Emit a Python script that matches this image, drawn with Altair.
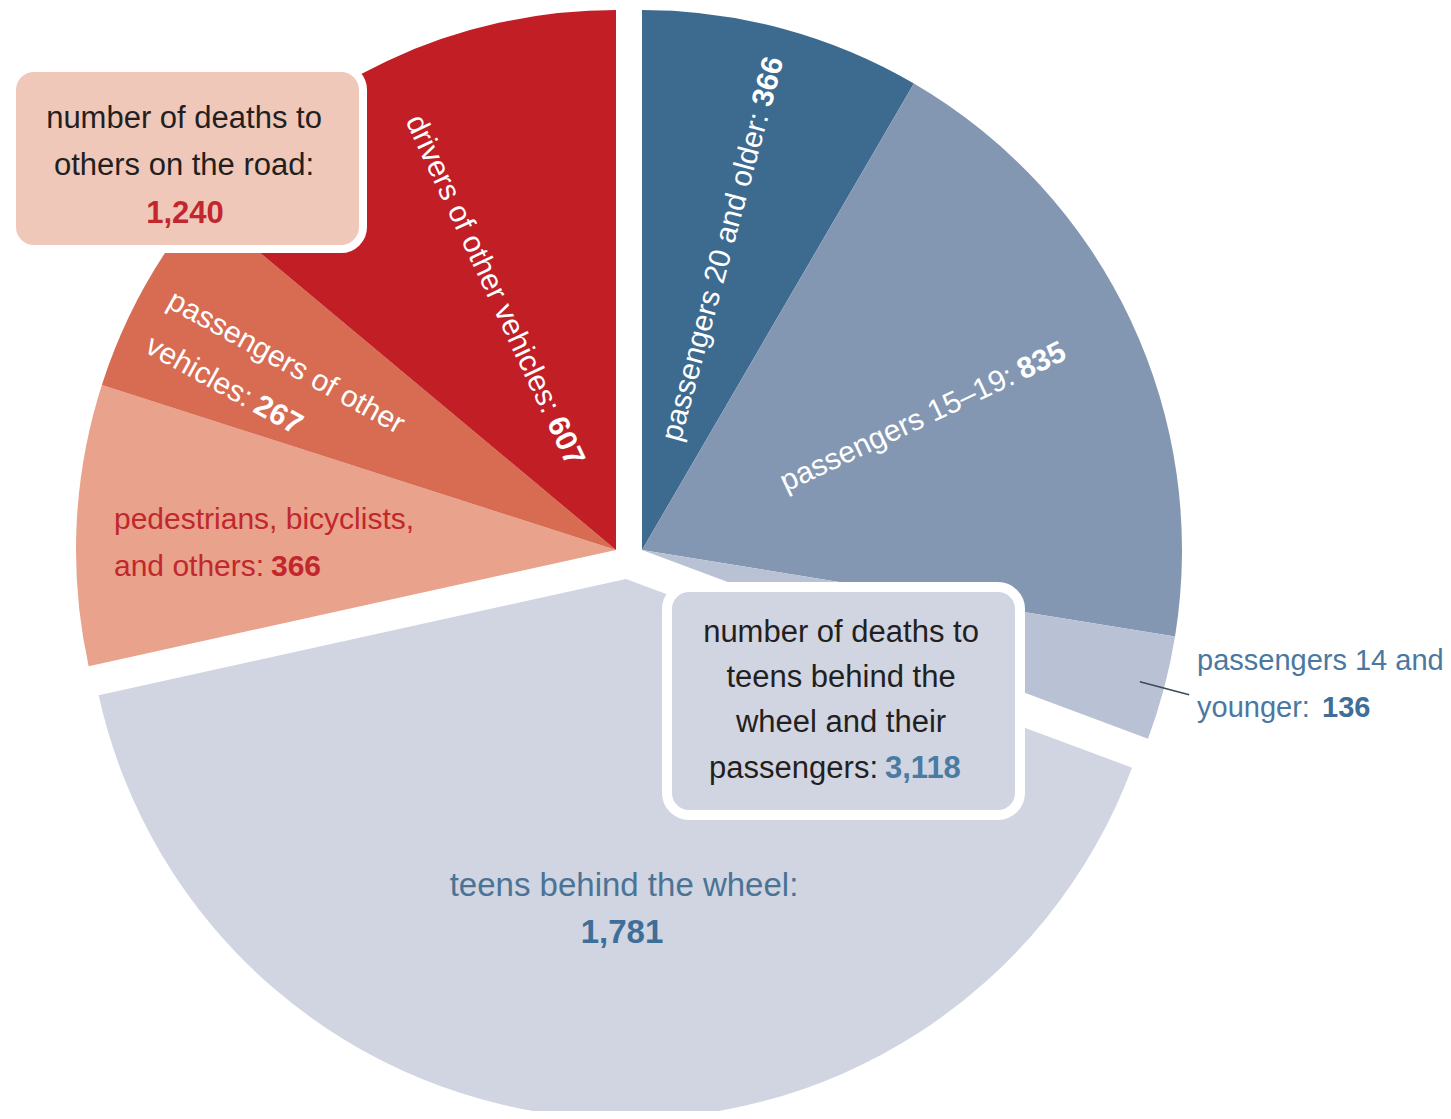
import altair as alt
import pandas as pd

# ---------------- data ----------------
categories = [
    "passengers 20 and older",
    "passengers 15–19",
    "passengers 14 and younger",
    "teens behind the wheel",
    "pedestrians, bicyclists, and others",
    "passengers of other vehicles",
    "drivers of other vehicles",
]
deaths = [366, 835, 136, 1781, 366, 267, 607]
groups = ["teen passengers", "teen passengers", "teen passengers", "teen drivers",
          "others", "others", "others"]
colors = ["#3d6a8f", "#8497b2", "#b9c2d4", "#d0d5e1", "#e9a28b", "#d76c53", "#c11e26"]

df = pd.DataFrame({"category": categories, "deaths": deaths, "group": groups})
df["end"] = df["deaths"].cumsum()
df["start"] = df["end"] - df["deaths"]
df["mid"] = (df["start"] + df["end"]) / 2
total = int(df["deaths"].sum())
mid_deg = dict(zip(df["category"], df["mid"] / total * 360))
others_total = int(df.loc[df["group"] == "others", "deaths"].sum())
teen_total = total - others_total
totals = pd.DataFrame({"box": ["others", "teens"], "total": [others_total, teen_total]})

# ---------------- styling ----------------
FONT = "Liberation Sans"
DARK = "#231f20"
RED_TXT = "#c1272d"
BLUE_TXT = "#4a78a0"
BLUE_NUM = "#3f6e98"

RED_C = (604, 542)
BLUE_C = (630, 542)
TEEN_C = (614, 571)
R = 540

theta_scale = alt.Scale(domain=[0, total], nice=False)
color_scale = alt.Scale(domain=categories, range=colors)

base = alt.Chart(df)


def arcs(group, center):
    return base.transform_filter(alt.datum.group == group).mark_arc(radius=R).encode(
        x=alt.value(center[0]),
        y=alt.value(center[1]),
        theta=alt.Theta("start:Q", scale=theta_scale, stack=False),
        theta2="end:Q",
        color=alt.Color("category:N", scale=color_scale, legend=None),
    )


def inward(cat):
    return (mid_deg[cat] + 90) % 360


def outward(cat):
    return (mid_deg[cat] + 270) % 360


def polar_text(cat, center, radius, angle, align, text=None, dy=0, bold=False,
               color="white", size=30):
    txt = alt.Text("deaths:Q", format=",") if text is None else alt.value(text)
    return base.transform_filter(alt.datum.category == cat).mark_text(
        radius=radius, angle=angle, align=align, baseline="middle", dy=dy,
        font=FONT, fontSize=size, fontWeight="bold" if bold else "normal", color=color,
    ).encode(
        x=alt.value(center[0]),
        y=alt.value(center[1]),
        theta=alt.Theta("mid:Q", scale=theta_scale, stack=False),
        text=txt,
    )


def xy_text(x, y, text=None, cat=None, align="left", bold=False, color=DARK, size=30):
    if cat is None:
        src = alt.Chart(totals).transform_filter(alt.datum.box == "others")
        txt = alt.value(text)
    else:
        src = base.transform_filter(alt.datum.category == cat)
        txt = alt.Text("deaths:Q", format=",") if text is None else alt.value(text)
    return src.mark_text(
        align=align, baseline="alphabetic", font=FONT, fontSize=size,
        fontWeight="bold" if bold else "normal", color=color,
    ).encode(x=alt.value(x), y=alt.value(y), text=txt)


def box_total(box, x, y, color, align="center", size=31):
    return alt.Chart(totals).transform_filter(alt.datum.box == box).mark_text(
        align=align, baseline="alphabetic", font=FONT, fontSize=size,
        fontWeight="bold", color=color,
    ).encode(x=alt.value(x), y=alt.value(y), text=alt.Text("total:Q", format=","))


def box(which, x, x2, y, y2, fill, sw):
    return alt.Chart(totals).transform_filter(alt.datum.box == which).mark_rect(
        fill=fill, stroke="white", strokeWidth=sw, cornerRadius=22,
    ).encode(x=alt.value(x), x2=alt.value(x2), y=alt.value(y), y2=alt.value(y2))


c_drv = "drivers of other vehicles"
c_pov = "passengers of other vehicles"
c_ped = "pedestrians, bicyclists, and others"
c_p20 = "passengers 20 and older"
c_p15 = "passengers 15–19"
c_p14 = "passengers 14 and younger"
c_teen = "teens behind the wheel"

leader = base.transform_filter(alt.datum.category == c_p14).mark_arc(
    radius=566, radius2=515, fill="transparent", stroke="#3e4856", strokeWidth=1.5,
).encode(
    x=alt.value(BLUE_C[0]),
    y=alt.value(BLUE_C[1]),
    theta=alt.Theta("mid:Q", scale=theta_scale, stack=False),
    theta2="mid:Q",
)

layers = [
    arcs("others", RED_C),
    arcs("teen passengers", BLUE_C),
    arcs("teen drivers", TEEN_C),
    box("others", 0, 351, 60, 241, "#f0c8b9", 8),
    box("teens", 655, 1008, 579, 807, "#d0d5e1", 10),
    leader,
    # rotated labels in red group
    polar_text(c_drv, RED_C, 153, inward(c_drv), "right", text="drivers of other vehicles:"),
    polar_text(c_drv, RED_C, 145, inward(c_drv), "left", bold=True),
    polar_text(c_pov, RED_C, 512, inward(c_pov), "left", text="passengers of other", dy=-5),
    polar_text(c_pov, RED_C, 393, inward(c_pov), "right", text="vehicles:", dy=45),
    polar_text(c_pov, RED_C, 386, inward(c_pov), "left", dy=45, bold=True),
    # rotated labels in blue group
    polar_text(c_p20, BLUE_C, 452, outward(c_p20), "right", text="passengers 20 and older:"),
    polar_text(c_p20, BLUE_C, 460, outward(c_p20), "left", bold=True),
    polar_text(c_p15, BLUE_C, 410, outward(c_p15), "right", text="passengers 15–19:"),
    polar_text(c_p15, BLUE_C, 417, outward(c_p15), "left", bold=True),
    # horizontal labels
    xy_text(102, 521, text="pedestrians, bicyclists,", cat=c_ped, color=RED_TXT),
    xy_text(102, 568, text="and others:", cat=c_ped, color=RED_TXT),
    xy_text(259, 568, cat=c_ped, bold=True, color=RED_TXT),
    xy_text(612, 888, text="teens behind the wheel:", cat=c_teen, align="center",
            color="#4b7396", size=33),
    xy_text(610, 935, cat=c_teen, align="center", bold=True, color=BLUE_NUM, size=33),
    xy_text(1185, 662, text="passengers 14 and", cat=c_p14, color=BLUE_TXT, size=29),
    xy_text(1185, 709, text="younger:", cat=c_p14, color=BLUE_TXT, size=29),
    xy_text(1310, 709, cat=c_p14, bold=True, color=BLUE_NUM, size=29),
    # box texts
    xy_text(172, 120, text="number of deaths to", align="center", size=31),
    xy_text(172, 167, text="others on the road:", align="center", size=31),
    box_total("others", 173, 215, RED_TXT),
    xy_text(829, 634, text="number of deaths to", align="center", size=31),
    xy_text(829, 679, text="teens behind the", align="center", size=31),
    xy_text(829, 724, text="wheel and their", align="center", size=31),
    xy_text(866, 770, text="passengers:", align="right", size=31),
    box_total("teens", 873, 770, "#4a7ba3", align="left"),
]

chart = alt.layer(*layers).properties(
    width=1435,
    height=1103,
    padding=0,
    autosize=alt.AutoSizeParams(type="fit", contains="padding"),
).configure_view(stroke="transparent")

chart.save("out.html", embed_options={"renderer": "svg", "actions": False})
